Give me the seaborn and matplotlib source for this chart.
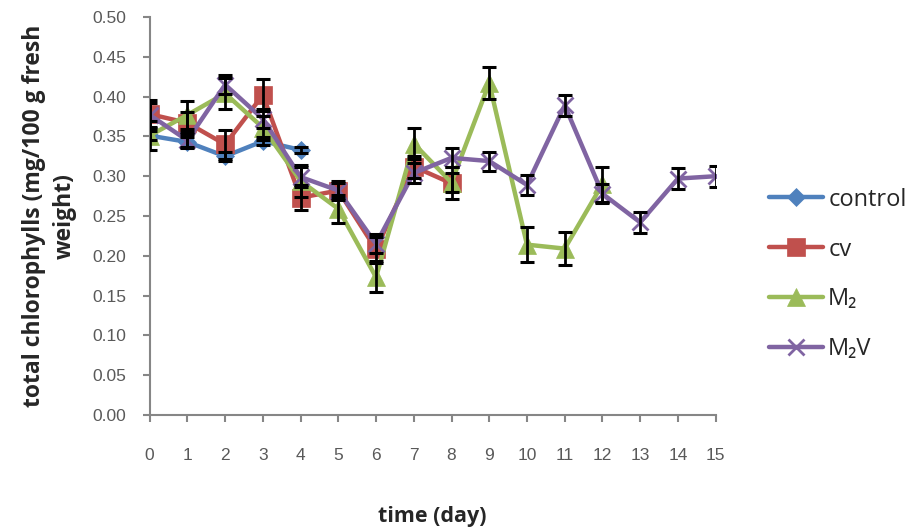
import numpy as np
import pandas as pd
import matplotlib
matplotlib.use("Agg")
import matplotlib.pyplot as plt
import seaborn as sns

# ==============================
# data
# ==============================
days_control = [0, 1, 2, 3, 4]
control = [0.351, 0.343, 0.325, 0.344, 0.333]
control_err = [0.006, 0.006, 0.006, 0.005, 0.004]

days_cv = [0, 1, 2, 3, 4, 5, 6, 7, 8]
cv = [0.378, 0.367, 0.340, 0.402, 0.273, 0.282, 0.208, 0.312, 0.291]
cv_err = [0.018, 0.014, 0.018, 0.020, 0.016, 0.012, 0.015, 0.014, 0.020]

days_m2 = [0, 1, 2, 3, 4, 5, 6, 7, 8, 9, 10, 11, 12]
m2 = [0.351, 0.377, 0.404, 0.361, 0.294, 0.259, 0.173, 0.341, 0.292, 0.417, 0.214, 0.209, 0.290]
m2_err = [0.018, 0.018, 0.020, 0.015, 0.020, 0.018, 0.018, 0.020, 0.012, 0.020, 0.022, 0.021, 0.022]

days_m2v = list(range(16))
m2v = [0.377, 0.345, 0.415, 0.372, 0.299, 0.282, 0.215, 0.304, 0.323, 0.319, 0.289, 0.389, 0.278, 0.242, 0.297, 0.300]
m2v_err = [0.015, 0.010, 0.012, 0.012, 0.012, 0.010, 0.012, 0.012, 0.012, 0.012, 0.013, 0.013, 0.012, 0.013, 0.013, 0.013]

series_names = ["control", "cv", "M₂", "M₂V"]
colors = ["#4F81BD", "#C0504D", "#9BBB59", "#8064A2"]
markers = ["D", "s", "^", "x"]
msizes = [9.5, 12.5, 12.5, 11]

frames = []
for name, d, v, e in zip(series_names,
                          [days_control, days_cv, days_m2, days_m2v],
                          [control, cv, m2, m2v],
                          [control_err, cv_err, m2_err, m2v_err]):
    frames.append(pd.DataFrame({"day": d, "value": v, "err": e, "series": name}))
df = pd.concat(frames, ignore_index=True)

# ==============================
# plot
# ==============================
sns.set_style("white")
plt.rcParams["font.family"] = ["Liberation Sans", "DejaVu Sans"]
bold_font = ["Open Sans", "DejaVu Sans"]

fig = plt.figure(figsize=(9.07, 5.32), dpi=100)
ax = fig.add_axes([0.165, 0.220, 0.624, 0.748])

for name, c, m, ms in zip(series_names, colors, markers, msizes):
    sub = df[df["series"] == name]
    sns.lineplot(data=sub, x="day", y="value", ax=ax, color=c, marker=m,
                 markersize=ms, linewidth=3.2, markeredgecolor=c,
                 markeredgewidth=2 if m == "x" else 0.5, label=name,
                 errorbar=None, zorder=2)
    ax.errorbar(sub["day"], sub["value"], yerr=sub["err"], fmt="none",
                ecolor="black", elinewidth=2, capsize=5, capthick=2.2, zorder=3)

ax.set_xlim(0, 15)
ax.set_ylim(0, 0.5)
ax.set_xticks(range(16))
ax.set_yticks(np.arange(0, 0.51, 0.05))
ax.set_yticklabels([f"{t:.2f}" for t in np.arange(0, 0.51, 0.05)])

for s in ["top", "right"]:
    ax.spines[s].set_visible(False)
for s in ["left", "bottom"]:
    ax.spines[s].set_color("#868686")
    ax.spines[s].set_linewidth(1.5)

ax.tick_params(axis="x", direction="out", length=5, width=1.5, color="#868686",
               pad=19, labelsize=12.5, labelcolor="#595959", bottom=True)
ax.tick_params(axis="y", direction="out", length=5, width=1.5, color="#868686",
               pad=12, labelsize=12.5, labelcolor="#595959", left=True)
for lab in ax.get_xticklabels() + ax.get_yticklabels():
    lab.set_clip_on(False)

ax.set_xlabel("time (day)", fontsize=15.5, fontweight="bold",
              family=bold_font, labelpad=31)
ax.set_ylabel("total chlorophylls (mg/100 g fresh\nweight)", fontsize=16.5,
              fontweight="bold", family=bold_font,
              labelpad=11, linespacing=1.4)

leg = ax.legend(loc="center left", bbox_to_anchor=(0.848, 0.484),
                bbox_transform=fig.transFigure, frameon=False,
                prop={"family": bold_font, "size": 17},
                handlelength=2.3, handletextpad=0.2, labelspacing=1.1,
                borderaxespad=0, borderpad=0)
for t in leg.get_texts():
    t.set_color("#262626")

fig.savefig("out.png", dpi=100)
